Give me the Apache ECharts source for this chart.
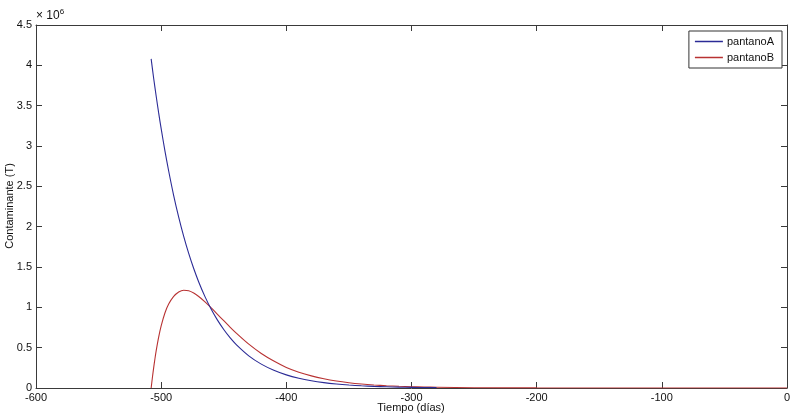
<!DOCTYPE html>
<html>
<head>
<meta charset="utf-8">
<script src="https://cdn.jsdelivr.net/npm/echarts@6/dist/echarts.min.js"></script>
<style>
html,body{margin:0;padding:0;background:#fff;}
#chart{width:800px;height:418px;}
</style>
</head>
<body>
<div id="chart"></div>
<script>
// Time (days) samples
const tA = [-508,-506,-504,-502,-500,-497,-494,-490,-486,-482,-478,-474,-470,-465,-460,-455,-450,-445,-440,-430,-420,-410,-400,-390,-380,-370,-360,-350,-340,-330,-320,-310,-300,-290,-280];
// pantanoA (x 10^6 T)
const pantanoA = [4.08,3.84,3.62,3.41,3.215,2.94,2.69,2.386,2.118,1.88,1.669,1.481,1.315,1.133,0.976,0.841,0.725,0.624,0.538,0.399,0.296,0.22,0.163,0.121,0.09,0.067,0.05,0.037,0.027,0.02,0.015,0.011,0.008,0.006,0.005];
const tB = [-508,-507,-506,-505,-504,-502,-500,-497,-494,-490,-486,-482,-478,-474,-470,-465,-460,-455,-450,-445,-440,-430,-420,-410,-400,-390,-380,-370,-360,-350,-340,-330,-320,-310,-300,-290,-280,-250,-200,-100,0];
// pantanoB (x 10^6 T)
const pantanoB = [0,0.13,0.25,0.36,0.46,0.63,0.77,0.93,1.04,1.135,1.19,1.212,1.205,1.177,1.134,1.068,0.993,0.913,0.834,0.755,0.68,0.543,0.428,0.334,0.255,0.196,0.15,0.114,0.086,0.065,0.049,0.037,0.028,0.021,0.016,0.012,0.009,0.004,0.001,0.0001,0];
const xTicks = {min:-600, max:0, interval:100};
const yTicks = {min:0, max:4.5, interval:0.5};
const xTitle = 'Tiempo (días)';
const yTitle = 'Contaminante (T)';

const chart = echarts.init(document.getElementById('chart'), null, {renderer:'canvas'});
const axisColor = '#3a3a3a';
const fontFam = '"Liberation Sans", Arial, sans-serif';
function pairs(t, v){ return t.map((x,i)=>[x, v[i]]); }
const yFmt = v => (Math.round(v*10)/10).toString();

chart.setOption({
  animation:false,
  backgroundColor:'#fff',
  grid:{left:36, right:13, top:25, bottom:30, containLabel:false, outerBoundsMode:'none'},
  xAxis:[{
    type:'value', min:xTicks.min, max:xTicks.max, interval:xTicks.interval,
    axisLine:{show:true, onZero:false, lineStyle:{color:axisColor, width:1}},
    axisTick:{show:true, inside:true, length:6, lineStyle:{color:axisColor}},
    axisLabel:{color:'#111', fontSize:11, fontFamily:fontFam, margin:4},
    splitLine:{show:false}
  },{
    type:'value', position:'top', min:xTicks.min, max:xTicks.max, interval:xTicks.interval,
    axisLine:{show:true, onZero:false, lineStyle:{color:axisColor, width:1}},
    axisTick:{show:true, inside:true, length:6, lineStyle:{color:axisColor}},
    axisLabel:{show:false}, splitLine:{show:false}
  }],
  yAxis:[{
    type:'value', min:yTicks.min, max:yTicks.max, interval:yTicks.interval,
    axisLine:{show:true, onZero:false, lineStyle:{color:axisColor, width:1}},
    axisTick:{show:true, inside:true, length:6, lineStyle:{color:axisColor}},
    axisLabel:{color:'#111', fontSize:11, fontFamily:fontFam, margin:4, formatter:yFmt},
    splitLine:{show:false}
  },{
    type:'value', position:'right', min:yTicks.min, max:yTicks.max, interval:yTicks.interval,
    axisLine:{show:true, onZero:false, lineStyle:{color:axisColor, width:1}},
    axisTick:{show:true, inside:true, length:6, lineStyle:{color:axisColor}},
    axisLabel:{show:false}, splitLine:{show:false}
  }],
  legend:{
    orient:'vertical', right:18, top:31,
    icon:'rect', itemWidth:28, itemHeight:1.5, itemGap:5,
    padding:[5,8,5,6],
    borderColor:'#333', borderWidth:1, backgroundColor:'#fff',
    textStyle:{color:'#111', fontSize:11, fontFamily:fontFam, padding:[0,0,0,-1]},
    data:['pantanoA','pantanoB']
  },
  graphic:[{
    type:'text', left:36, top:8,
    style:{
      text:'× 10{s|6}',
      font:'12px "Liberation Sans", Arial, sans-serif',
      fill:'#111',
      rich:{s:{fontSize:8, verticalAlign:'top', padding:[0,0,7,0], fill:'#111', fontFamily:fontFam}}
    }
  },{
    type:'text', x:411, y:408,
    style:{text:xTitle, font:'11px "Liberation Sans", Arial, sans-serif', fill:'#111', align:'center', verticalAlign:'middle'}
  },{
    type:'text', x:10, y:206, rotation:Math.PI/2,
    style:{text:yTitle, font:'11px "Liberation Sans", Arial, sans-serif', fill:'#111', align:'center', verticalAlign:'middle'}
  }],
  series:[{
    name:'pantanoA', type:'line', data:pairs(tA, pantanoA), smooth:0.3,
    symbol:'none', showSymbol:false, z:3,
    lineStyle:{color:'#2b2b96', width:1.1}, itemStyle:{color:'#2b2b96'}
  },{
    name:'pantanoB', type:'line', data:pairs(tB, pantanoB), smooth:0.3,
    symbol:'none', showSymbol:false, z:2,
    lineStyle:{color:'#b83232', width:1.1}, itemStyle:{color:'#b83232'}
  }]
});
</script>
</body>
</html>
